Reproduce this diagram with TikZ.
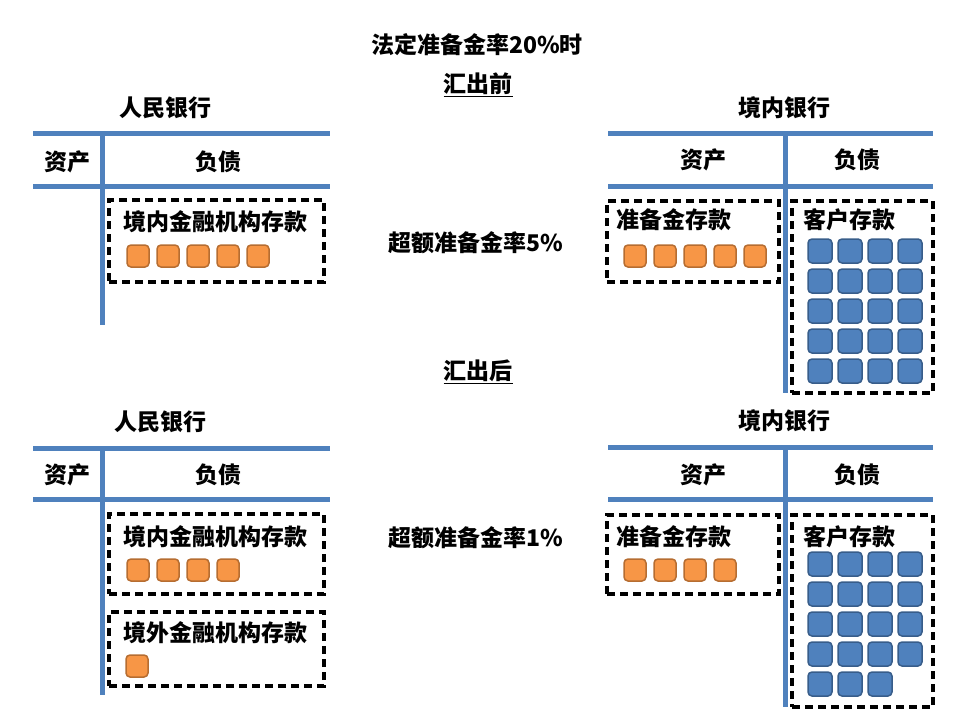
\documentclass[tikz,border=0pt]{standalone}
\usepackage{fontspec}
\newfontfamily\cjk{Noto Sans CJK SC}
\usetikzlibrary{positioning}
\definecolor{lineblue}{RGB}{79,129,189}
\definecolor{sqorange}{RGB}{247,150,70}
\definecolor{sqorangedark}{RGB}{182,109,49}
\definecolor{sqblue}{RGB}{79,129,189}
\definecolor{sqbluedark}{RGB}{56,93,138}

\begin{document}
\begin{tikzpicture}[x=1pt,y=-1pt,
		tline/.style={lineblue,line width=5pt},
		lbl/.style={font=\cjk\bfseries\fontsize{23}{26}\selectfont,inner sep=0pt},
		midlbl/.style={font=\cjk\bfseries\fontsize{23}{26}\selectfont,inner sep=0pt},
		grp/.style={draw=black,line width=3.5pt,dash pattern=on 8pt off 5pt,inner sep=0pt},
		osq/.style={draw=sqorangedark,fill=sqorange,line width=1.5pt,rounded corners=4pt,minimum size=22pt,inner sep=0pt},
		bsq/.style={draw=sqbluedark,fill=sqblue,line width=1.5pt,rounded corners=4pt,minimum size=24pt,inner sep=0pt}]
				\useasboundingbox (0,0) rectangle (960,720);
				% middle column
				\node[midlbl] (rule) at (477,45) {法定准备金率20\%时};
				\node[midlbl] (before) at (478,85) {\underline{汇出前}};
				\node[midlbl] (excessA) at (476,243) {超额准备金率5\%};
				\node[midlbl] (after) at (478,372) {\underline{汇出后}};
				\node[midlbl] (excessB) at (476,538) {超额准备金率1\%};
				% T accounts, before
				\node[lbl] (pbocA) at (165,108) {人民银行};
				\node[lbl] (pbocAas) at (67,162) {资产};
				\node[lbl] (pbocAli) at (218,162) {负债};
				\draw[tline] (33,133) -- (330,133) (33,186) -- (330,186) (102,133) -- (102,325);
				\node[lbl] (bankA) at (784,108) {境内银行};
				\node[lbl] (bankAas) at (703,160) {资产};
				\node[lbl] (bankAli) at (857,160) {负债};
				\draw[tline] (608,133) -- (933,133) (608,186) -- (933,186) (785,133) -- (785,393);
				% T accounts, after
				\node[lbl] (pbocB) at (160,422) {人民银行};
				\node[lbl] (pbocBas) at (67,475) {资产};
				\node[lbl] (pbocBli) at (218,475) {负债};
				\draw[tline] (33,448) -- (330,448) (33,499) -- (330,499) (102,448) -- (102,695);
				\node[lbl] (bankB) at (784,421) {境内银行};
				\node[lbl] (bankBas) at (703,475) {资产};
				\node[lbl] (bankBli) at (857,475) {负债};
				\draw[tline] (608,447) -- (933,447) (608,499) -- (933,499) (785,447) -- (785,707);
				% dashed groups
				\node[grp,minimum width=215pt,minimum height=82pt] (dpA) at (216.5,241) {};
				\node[grp,minimum width=172pt,minimum height=81pt] (rsA) at (693,241.5) {};
				\node[grp,minimum width=141pt,minimum height=192pt] (cdA) at (862.5,297) {};
				\node[grp,minimum width=215pt,minimum height=80pt] (dpB) at (216.5,554) {};
				\node[grp,minimum width=215pt,minimum height=74pt] (fpB) at (216.5,649) {};
				\node[grp,minimum width=172pt,minimum height=79pt] (rsB) at (693,554.5) {};
				\node[grp,minimum width=141pt,minimum height=192pt] (cdB) at (862.5,611) {};
				\node[lbl] (dpAt) at (215,222) {境内金融机构存款};
				\node[lbl,anchor=west] (rsAt) at (616,220) {准备金存款};
				\node[lbl,anchor=west] (cdAt) at (803,220) {客户存款};
				\node[lbl] (dpBt) at (215,537) {境内金融机构存款};
				\node[lbl] (fpBt) at (215,633) {境外金融机构存款};
				\node[lbl,anchor=west] (rsBt) at (616,537) {准备金存款};
				\node[lbl,anchor=west] (cdBt) at (803,537) {客户存款};
				% squares
				\foreach \i in {0,...,4}{
					\node[osq] (dpA-\i) at ({138+30*\i},256) {};
					\node[osq] (rsA-\i) at ({635+30*\i},256) {};
				};
				\foreach \i in {0,...,3}{
					\node[osq] (dpB-\i) at ({138+30*\i},570) {};
					\node[osq] (rsB-\i) at ({635+30*\i},570) {};
				};
				\node[osq] (fpB-0) at (137,666) {};
				\foreach \r in {0,...,4}
					\foreach \c in {0,...,3}{
						\node[bsq] (cdA-\r-\c) at ({820+30*\c},{251+30*\r}) {};
					};
				\foreach \r/\c in {0/0,0/1,0/2,0/3,1/0,1/1,1/2,1/3,2/0,2/1,2/2,2/3,3/0,3/1,3/2,3/3,4/0,4/1,4/2}{
					\node[bsq] (cdB-\r-\c) at ({820+30*\c},{564+30*\r}) {};
				};
			\end{tikzpicture}
\end{document}
